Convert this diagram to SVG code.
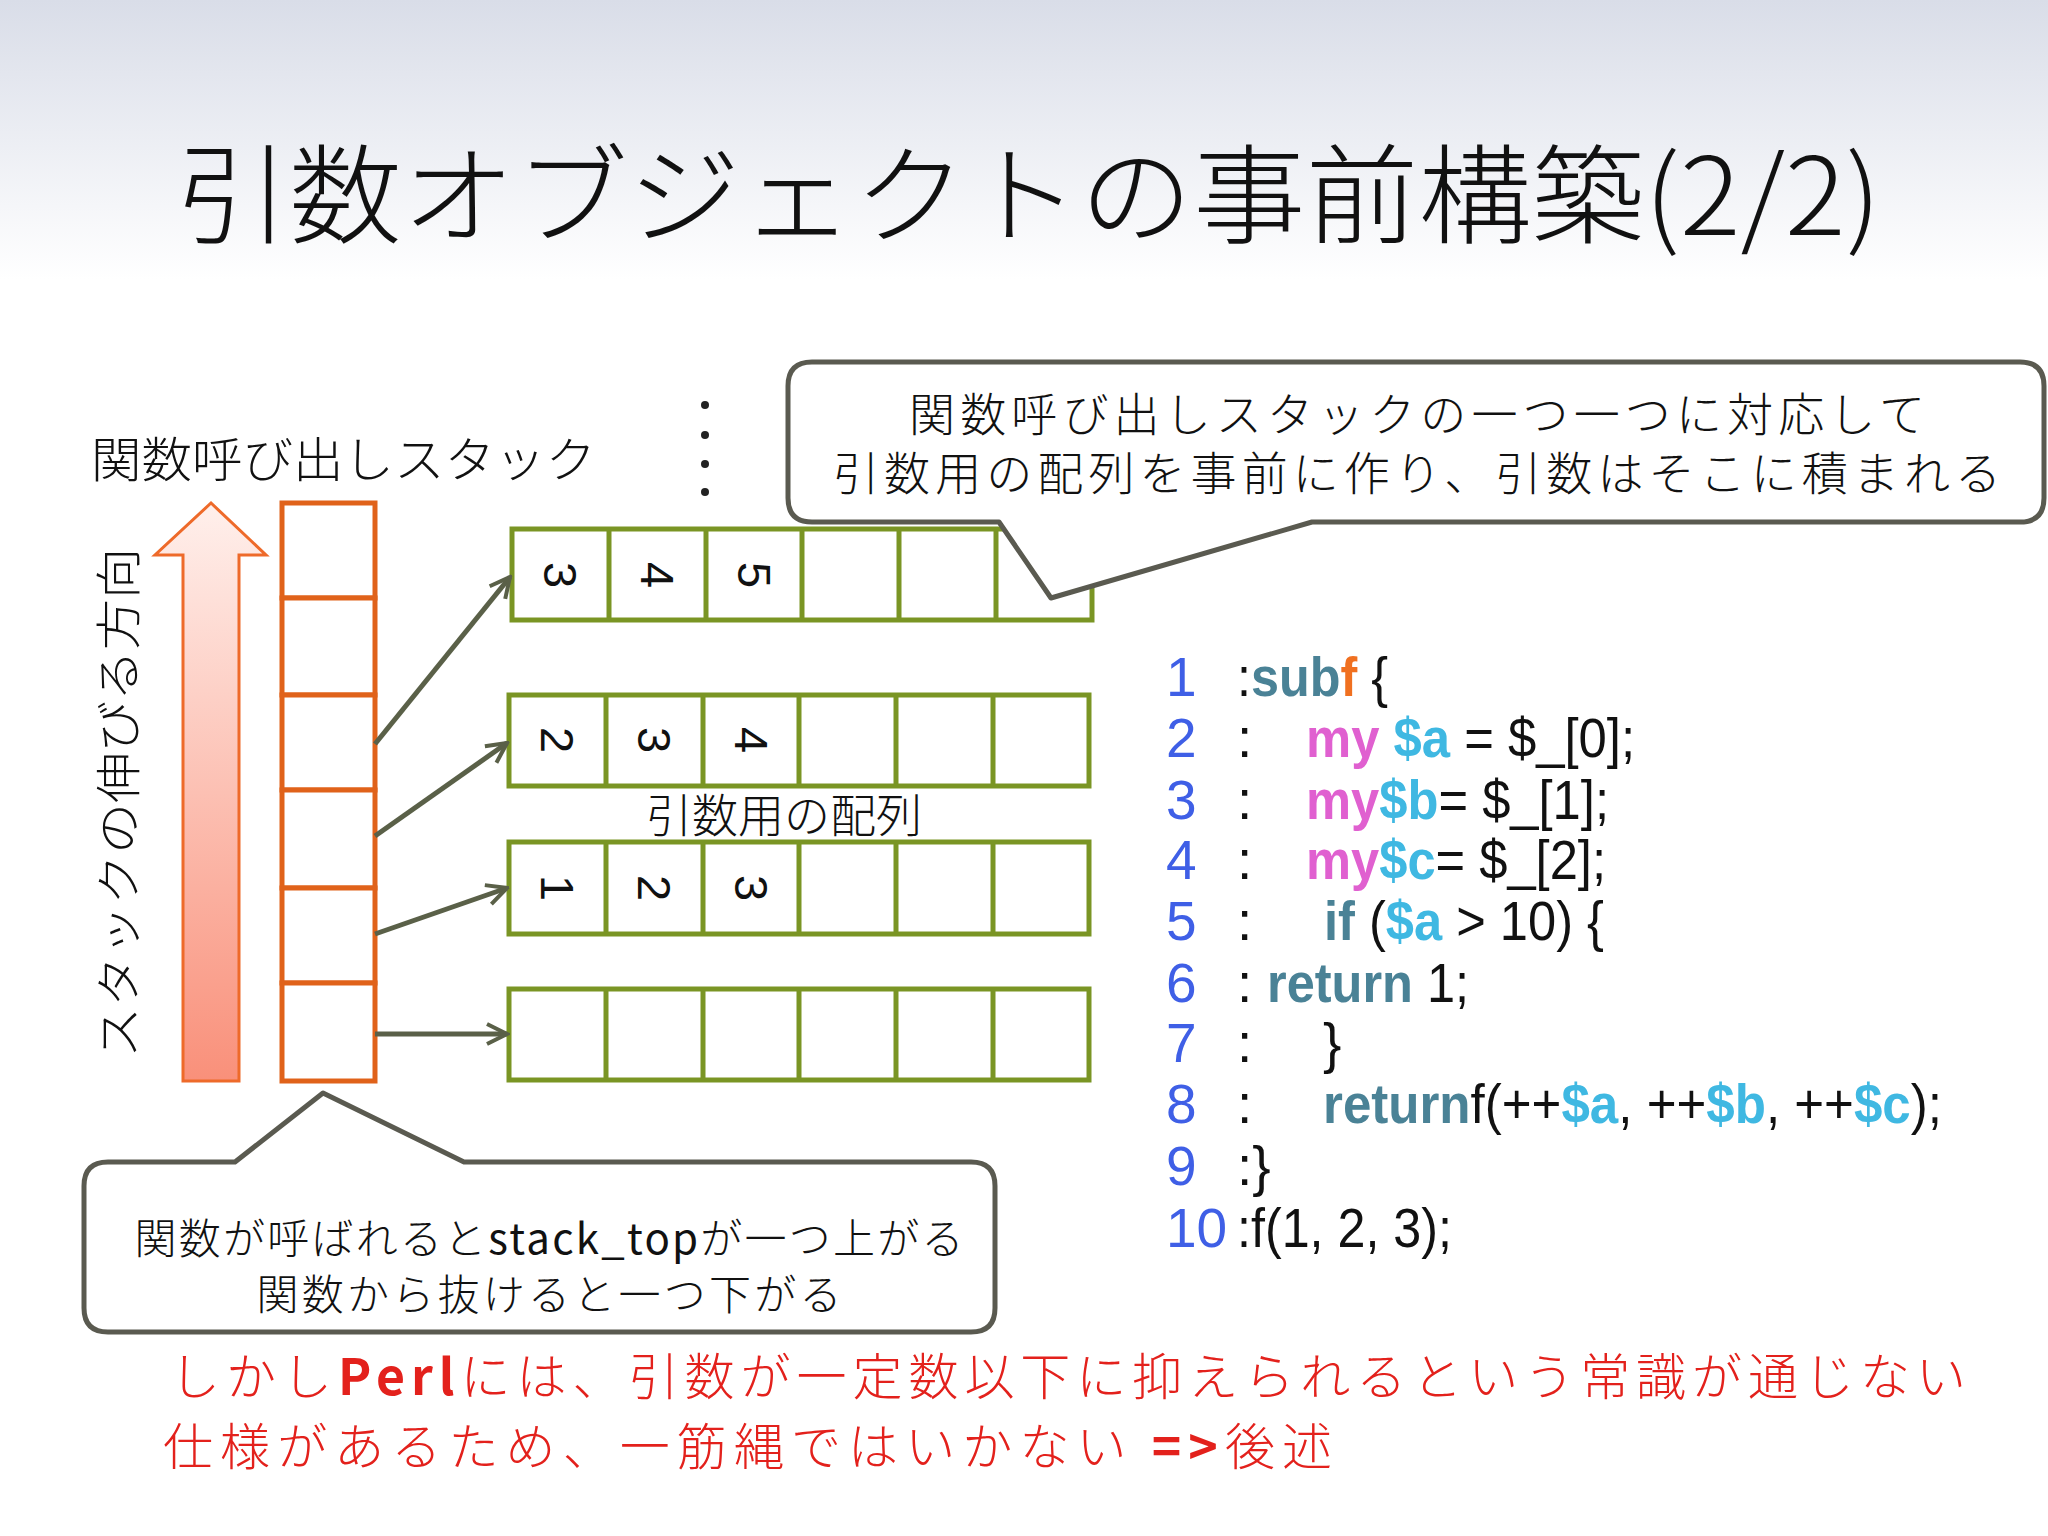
<svg xmlns="http://www.w3.org/2000/svg" width="2048" height="1536" viewBox="0 0 2048 1536">
<defs>
<linearGradient id="bg" x1="0" y1="0" x2="0" y2="1"><stop offset="0" stop-color="#d9dde8"/><stop offset="1" stop-color="#ffffff"/></linearGradient>
<linearGradient id="ar" x1="0" y1="0" x2="0" y2="1"><stop offset="0" stop-color="#fff0ec"/><stop offset="1" stop-color="#f9907a"/></linearGradient>
<marker id="ah" viewBox="0 0 10 10" refX="9" refY="5" markerWidth="5" markerHeight="5" orient="auto" markerUnits="strokeWidth"><path d="M1,1 L9,5 L1,9" fill="none" stroke="#5a6048" stroke-width="1.6"/></marker>
<style>
.jp{font-family:"Noto Sans CJK JP","Noto Sans",sans-serif;font-weight:300;fill:#111}
.stk{fill:#fff;stroke:#e0621a;stroke-width:5}
.arr{fill:#fff;stroke:#7a9524;stroke-width:5}
.num{font-family:"Liberation Sans",Arial,sans-serif;font-size:47px;fill:#111;text-anchor:middle}
.con{stroke:#5a6048;stroke-width:5;fill:none;marker-end:url(#ah)}
.call{fill:#fff;stroke:#5a5a50;stroke-width:5;stroke-linejoin:round}
.code{font-family:"Liberation Sans",Arial,sans-serif;font-size:55px;fill:#111}
.ln{fill:#3f5fe6}
.kw{fill:#4a8296;font-weight:bold}
.my{fill:#e060d0;font-weight:bold}
.v{fill:#3fb8e2;font-weight:bold}
.red{font-family:"Noto Sans CJK JP",sans-serif;font-size:50px;fill:#e3211c;font-weight:300}
</style>
</defs>
<rect width="2048" height="1536" fill="#fff"/>
<rect width="2048" height="280" fill="url(#bg)"/>
<text x="176" y="235" class="jp" font-size="108" textLength="1705" lengthAdjust="spacingAndGlyphs">引数オブジェクトの事前構築(2/2)</text>

<g id="stack-label"><text x="91" y="477" class="jp" font-size="48" font-weight="500" textLength="505" lengthAdjust="spacingAndGlyphs">関数呼び出しスタック</text></g>
<g id="direction">
<path d="M183,1081 L183,555 L155,555 L211,503 L266,555 L239,555 L239,1081 Z" fill="url(#ar)" stroke="#ee6a2a" stroke-width="3"/>
<text transform="translate(135,803) rotate(-90)" class="jp" font-size="46" text-anchor="middle" textLength="510" lengthAdjust="spacingAndGlyphs">スタックの伸びる方向</text>
</g>
<g id="stack">
<rect x="282" y="503" width="93" height="95" class="stk"/>
<rect x="282" y="598" width="93" height="97" class="stk"/>
<rect x="282" y="695" width="93" height="95" class="stk"/>
<rect x="282" y="790" width="93" height="98" class="stk"/>
<rect x="282" y="888" width="93" height="95" class="stk"/>
<rect x="282" y="983" width="93" height="98" class="stk"/>
</g>
<g id="dots" fill="#222"><circle cx="705" cy="405" r="4"/><circle cx="705" cy="435" r="4"/><circle cx="705" cy="464" r="4"/><circle cx="705" cy="492" r="4"/></g>

<g id="array1">
<rect x="512" y="529" width="580" height="91" class="arr"/>
<path d="M609,529V620M706,529V620M802,529V620M899,529V620M996,529V620" class="arr"/>
<text transform="translate(560,575) rotate(90)" class="num" dy="16">3</text>
<text transform="translate(657,575) rotate(90)" class="num" dy="16">4</text>
<text transform="translate(754,575) rotate(90)" class="num" dy="16">5</text>
</g>
<g id="array2">
<rect x="509" y="695" width="580" height="91" class="arr"/>
<path d="M606,695V786M703,695V786M799,695V786M896,695V786M993,695V786" class="arr"/>
<text transform="translate(557,740) rotate(90)" class="num" dy="16">2</text>
<text transform="translate(654,740) rotate(90)" class="num" dy="16">3</text>
<text transform="translate(751,740) rotate(90)" class="num" dy="16">4</text>
</g>
<text x="784" y="832" class="jp" font-size="46" text-anchor="middle">引数用の配列</text>
<g id="array3">
<rect x="509" y="842" width="580" height="92" class="arr"/>
<path d="M606,842V934M703,842V934M799,842V934M896,842V934M993,842V934" class="arr"/>
<text transform="translate(557,888) rotate(90)" class="num" dy="16">1</text>
<text transform="translate(654,888) rotate(90)" class="num" dy="16">2</text>
<text transform="translate(751,888) rotate(90)" class="num" dy="16">3</text>
</g>
<g id="array4">
<rect x="509" y="989" width="580" height="91" class="arr"/>
<path d="M606,989V1080M703,989V1080M799,989V1080M896,989V1080M993,989V1080" class="arr"/>
</g>

<g id="connectors">
<line x1="375" y1="744" x2="510" y2="577" class="con"/>
<line x1="375" y1="836" x2="507" y2="743" class="con"/>
<line x1="375" y1="934" x2="507" y2="888" class="con"/>
<line x1="375" y1="1034" x2="507" y2="1034" class="con"/>
</g>

<g id="callout-top">
<path d="M812,362 H2020 Q2044,362 2044,386 V498 Q2044,522 2020,522 H1312 L1051,598 L999,522 H812 Q788,522 788,498 V386 Q788,362 812,362 Z" class="call"/>
<text x="1417" y="431" class="jp" font-size="46" text-anchor="middle" textLength="1016" lengthAdjust="spacing">関数呼び出しスタックの一つ一つに対応して</text>
<text x="1417" y="490" class="jp" font-size="46" text-anchor="middle" textLength="1168" lengthAdjust="spacing">引数用の配列を事前に作り、引数はそこに積まれる</text>
</g>
<g id="callout-bottom">
<path d="M108,1162 H235 L323,1093 L464,1162 H971 Q995,1162 995,1186 V1308 Q995,1332 971,1332 H108 Q84,1332 84,1308 V1186 Q84,1162 108,1162 Z" class="call"/>
<text x="549" y="1254" class="jp" font-size="42" text-anchor="middle" textLength="829" lengthAdjust="spacing">関数が呼ばれると<tspan font-weight="400">stack_top</tspan>が一つ上がる</text>
<text x="549" y="1310" class="jp" font-size="42" text-anchor="middle" textLength="585" lengthAdjust="spacing">関数から抜けると一つ下がる</text>
</g>

<g id="code" class="code">
<text x="1166" y="696" class="ln">1</text>
<text x="1166" y="757" class="ln">2</text>
<text x="1166" y="819" class="ln">3</text>
<text x="1166" y="879" class="ln">4</text>
<text x="1166" y="940" class="ln">5</text>
<text x="1166" y="1002" class="ln">6</text>
<text x="1166" y="1062" class="ln">7</text>
<text x="1166" y="1123" class="ln">8</text>
<text x="1166" y="1185" class="ln">9</text>
<text x="1166" y="1247" class="ln">10</text>
<text x="1237" y="696" textLength="151" lengthAdjust="spacingAndGlyphs">:<tspan class="kw">sub</tspan><tspan fill="#f07020" font-weight="bold">f</tspan> {</text>
<text x="1237" y="757">:</text><text x="1306" y="757" textLength="329" lengthAdjust="spacingAndGlyphs"><tspan class="my">my</tspan> <tspan class="v">$a</tspan> = $_[0];</text>
<text x="1237" y="819">:</text><text x="1306" y="819" textLength="303" lengthAdjust="spacingAndGlyphs"><tspan class="my">my</tspan><tspan class="v">$b</tspan>= $_[1];</text>
<text x="1237" y="879">:</text><text x="1306" y="879" textLength="300" lengthAdjust="spacingAndGlyphs"><tspan class="my">my</tspan><tspan class="v">$c</tspan>= $_[2];</text>
<text x="1237" y="940">:</text><text x="1324" y="940" textLength="280" lengthAdjust="spacingAndGlyphs"><tspan class="kw">if</tspan> (<tspan class="v">$a</tspan> &gt; 10) {</text>
<text x="1237" y="1002">:</text><text x="1267" y="1002" textLength="202" lengthAdjust="spacingAndGlyphs"><tspan class="kw">return</tspan> 1;</text>
<text x="1237" y="1062">:</text><text x="1323" y="1062">}</text>
<text x="1237" y="1123">:</text><text x="1323" y="1123" textLength="619" lengthAdjust="spacingAndGlyphs"><tspan class="kw">return</tspan>f(++<tspan class="v">$a</tspan>, ++<tspan class="v">$b</tspan>, ++<tspan class="v">$c</tspan>);</text>
<text x="1237" y="1185">:}</text>
<text x="1237" y="1247" textLength="215" lengthAdjust="spacingAndGlyphs">:f(1, 2, 3);</text>
</g>

<g id="note">
<text x="170" y="1395" class="red" textLength="1796" lengthAdjust="spacing">しかし<tspan font-weight="bold">Perl</tspan>には、引数が一定数以下に抑えられるという常識が通じない</text>
<text x="163" y="1465" class="red" textLength="1169" lengthAdjust="spacing">仕様があるため、一筋縄ではいかない <tspan font-weight="bold">=&gt;</tspan>後述</text>
</g>
</svg>
